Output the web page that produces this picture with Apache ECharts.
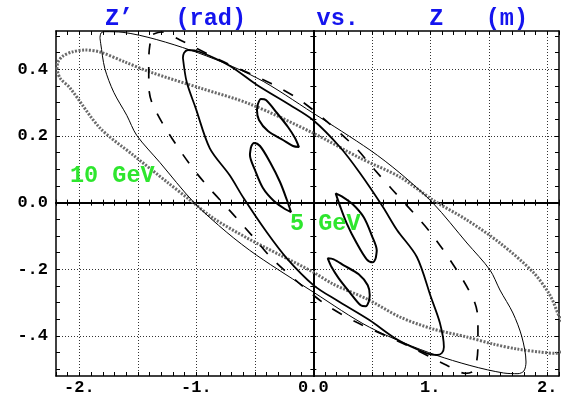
<!DOCTYPE html>
<html><head><meta charset="utf-8">
<script src="https://cdn.jsdelivr.net/npm/echarts@6/dist/echarts.min.js"></script>
<style>html,body{margin:0;padding:0;background:#fff}#c{width:561px;height:397px}</style>
</head><body><div id="c"></div>
<script>
// ---- axis ranges and tick labels ----
const xMin = -2.2, xMax = 2.1, yMin = -0.52, yMax = 0.515;
const xLabelVals = [-2, -1, 0, 1, 2];
const xLabelText = ['-2.', '-1.', '0.0', '1.', '2.'];
const yLabelVals = [-0.4, -0.2, 0, 0.2, 0.4];
const yLabelText = ['-.4', '-.2', '0.0', '0.2', '0.4'];
const xGridVals = [-2, -1.5, -1, -0.5, 0.5, 1, 1.5, 2];
const yGridVals = [-0.4, -0.2, 0.2, 0.4];
const xMinorTicks = []; for (let i = -22; i <= 21; i++) xMinorTicks.push(i / 10);
const yMinorTicks = []; for (let i = -10; i <= 10; i++) yMinorTicks.push(i / 20);

const titleText = 'Z\u2019   (rad)     vs.     Z   (m)';
const label10 = '10 GeV';
const label5 = '5 GeV';

// ---- curves (Z [m], Z' [rad]) ----
const dottedOrbit = [[-2.192,0.401],[-2.183,0.422],[-2.140,0.440],[-2.063,0.452],[-1.952,0.458],[-1.824,0.452],[-1.610,0.422],[-1.396,0.392],[-0.969,0.344],[-0.542,0.296],[-0.003,0.209],[0.398,0.134],[0.740,0.077],[1.022,0.008],[1.313,-0.052],[1.595,-0.121],[1.877,-0.208],[2.022,-0.277],[2.108,-0.346],[2.198,-0.401],[2.190,-0.422],[2.147,-0.440],[2.070,-0.452],[1.937,-0.448],[1.740,-0.439],[1.535,-0.424],[1.313,-0.403],[1.022,-0.379],[0.740,-0.343],[0.458,-0.289],[0.168,-0.244],[-0.003,-0.208],[-0.285,-0.157],[-0.567,-0.106],[-0.858,-0.046],[-1.055,0.008],[-1.251,0.062],[-1.541,0.143],[-1.824,0.224],[-2.080,0.344],[-2.166,0.374],[-2.192,0.401]];

const outerSolid = [[-1.824,0.494],[-1.815,0.509],[-1.781,0.513],[-1.627,0.511],[-1.054,0.458],[-0.482,0.374],[-0.003,0.269],[0.484,0.158],[0.740,0.089],[1.022,-0.001],[1.313,-0.121],[1.510,-0.202],[1.595,-0.262],[1.706,-0.331],[1.783,-0.403],[1.818,-0.478],[1.800,-0.505],[1.749,-0.513],[1.627,-0.511],[1.054,-0.458],[0.482,-0.374],[0.003,-0.269],[-0.484,-0.158],[-0.740,-0.089],[-1.022,0.001],[-1.313,0.121],[-1.510,0.202],[-1.595,0.262],[-1.706,0.331],[-1.783,0.403],[-1.818,0.478],[-1.824,0.494]];

const innerSolid = [[-1.115,0.434],[-1.106,0.449],[-1.072,0.458],[-0.969,0.452],[-0.713,0.410],[-0.482,0.353],[-0.200,0.293],[-0.003,0.248],[0.227,0.167],[0.398,0.089],[0.595,-0.013],[0.715,-0.082],[0.885,-0.163],[1.005,-0.283],[1.082,-0.361],[1.116,-0.433],[1.099,-0.451],[1.057,-0.457],[0.969,-0.452],[0.713,-0.410],[0.482,-0.353],[0.200,-0.293],[0.003,-0.248],[-0.227,-0.167],[-0.398,-0.089],[-0.595,0.013],[-0.715,0.082],[-0.885,0.163],[-1.005,0.283],[-1.082,0.361],[-1.115,0.434]];

const loopUpper1 = [[-0.474,0.296],[-0.448,0.311],[-0.405,0.308],[-0.311,0.269],[-0.217,0.227],[-0.157,0.194],[-0.123,0.167],[-0.174,0.170],[-0.260,0.188],[-0.388,0.215],[-0.465,0.248],[-0.482,0.278],[-0.474,0.296]];
const loopUpper2 = [[-0.533,0.167],[-0.508,0.179],[-0.456,0.170],[-0.371,0.122],[-0.285,0.062],[-0.226,0.008],[-0.191,-0.028],[-0.243,-0.019],[-0.337,0.005],[-0.431,0.044],[-0.499,0.098],[-0.542,0.143],[-0.533,0.167]];
const loopLower1 = [[0.474,-0.296],[0.448,-0.311],[0.405,-0.308],[0.311,-0.269],[0.217,-0.227],[0.157,-0.194],[0.123,-0.167],[0.174,-0.170],[0.260,-0.188],[0.388,-0.215],[0.465,-0.248],[0.482,-0.278],[0.474,-0.296]];
const loopLower2 = [[0.533,-0.167],[0.508,-0.179],[0.456,-0.170],[0.371,-0.122],[0.285,-0.062],[0.226,-0.008],[0.191,0.028],[0.243,0.019],[0.337,-0.005],[0.431,-0.044],[0.499,-0.098],[0.542,-0.143],[0.533,-0.167]];

const dashedOrbit = [[-1.37,0.505],[-1.30,0.512],[-1.14,0.488],[-0.80,0.428],[-0.37,0.359],[-0.115,0.308],[0.10,0.248],[0.356,0.167],[0.526,0.098],[0.655,0.047],[0.997,-0.088],[1.253,-0.217],[1.381,-0.301],[1.407,-0.352],[1.407,-0.427],[1.398,-0.472],[1.37,-0.505],[1.30,-0.512],[1.14,-0.488],[0.80,-0.428],[0.37,-0.359],[0.115,-0.308],[-0.10,-0.248],[-0.356,-0.167],[-0.526,-0.098],[-0.655,-0.047],[-0.997,0.088],[-1.253,0.217],[-1.381,0.301],[-1.407,0.352],[-1.407,0.427],[-1.398,0.472],[-1.37,0.505]];

// ---- build chart ----
const MONO = '"Liberation Mono","Courier New",monospace';
function lab(vals, texts) {
  return function (v) {
    for (let i = 0; i < vals.length; i++) if (Math.abs(v - vals[i]) < 1e-6) return texts[i];
    return '';
  };
}
const axisBlack = {color: '#000', width: 1.5};
function xAx(o) {
  return Object.assign({type: 'value', min: xMin, max: xMax, splitLine: {show: false}}, o);
}
function yAx(o) {
  return Object.assign({type: 'value', min: yMin, max: yMax, splitLine: {show: false}}, o);
}
const noLabel = {show: false};
const tickLine = {color: '#000', width: 1};
const xAxes = [
  xAx({position: 'bottom', axisLine: {show: true, onZero: false, lineStyle: axisBlack},
       axisTick: {show: true, inside: true, length: 4, customValues: xMinorTicks, lineStyle: tickLine},
       axisLabel: {show: true, customValues: xLabelVals, formatter: lab(xLabelVals, xLabelText), margin: 3,
                   fontFamily: MONO, fontWeight: 'bold', fontSize: 17, color: '#000'}}),
  xAx({position: 'top', axisLine: {show: true, onZero: false, lineStyle: axisBlack},
       axisTick: {show: true, inside: true, length: 4, customValues: xMinorTicks, lineStyle: tickLine}, axisLabel: noLabel}),
  xAx({position: 'bottom', axisLine: {show: true, onZero: true, onZeroAxisIndex: 0, lineStyle: {color: '#000', width: 2}},
       axisTick: {show: true, inside: true, length: 3, customValues: xMinorTicks, lineStyle: tickLine}, axisLabel: noLabel}),
  xAx({position: 'top', axisLine: {show: true, onZero: true, onZeroAxisIndex: 0, lineStyle: {color: '#000', width: 2}},
       axisTick: {show: true, inside: true, length: 3, customValues: xMinorTicks, lineStyle: tickLine}, axisLabel: noLabel}),
  xAx({position: 'bottom', axisLine: {show: false, onZero: false}, axisTick: {show: false, customValues: xGridVals},
       axisLabel: noLabel, splitLine: {show: true, lineStyle: {color: '#333', width: 1, type: [1, 2]}}})
];
const yAxes = [
  yAx({position: 'left', axisLine: {show: true, onZero: false, lineStyle: axisBlack},
       axisTick: {show: true, inside: true, length: 4, customValues: yMinorTicks, lineStyle: tickLine},
       axisLabel: {show: true, customValues: yLabelVals, formatter: lab(yLabelVals, yLabelText), margin: 8,
                   fontFamily: MONO, fontWeight: 'bold', fontSize: 17, color: '#000'}}),
  yAx({position: 'right', axisLine: {show: true, onZero: false, lineStyle: axisBlack},
       axisTick: {show: true, inside: true, length: 4, customValues: yMinorTicks, lineStyle: tickLine}, axisLabel: noLabel}),
  yAx({position: 'left', axisLine: {show: true, onZero: true, onZeroAxisIndex: 0, lineStyle: {color: '#000', width: 2}},
       axisTick: {show: true, inside: true, length: 3, customValues: yMinorTicks, lineStyle: tickLine}, axisLabel: noLabel}),
  yAx({position: 'right', axisLine: {show: true, onZero: true, onZeroAxisIndex: 0, lineStyle: {color: '#000', width: 2}},
       axisTick: {show: true, inside: true, length: 3, customValues: yMinorTicks, lineStyle: tickLine}, axisLabel: noLabel}),
  yAx({position: 'left', axisLine: {show: false, onZero: false}, axisTick: {show: false, customValues: yGridVals},
       axisLabel: noLabel, splitLine: {show: true, lineStyle: {color: '#333', width: 1, type: [1, 2]}}})
];
function curve(data, ls, z) {
  return {type: 'line', data: data, xAxisIndex: 0, yAxisIndex: 0, showSymbol: false, symbol: 'none',
          smooth: 0.3, lineStyle: ls, z: z || 3, silent: true};
}
const chart = echarts.init(document.getElementById('c'), null, {renderer: 'canvas'});
chart.setOption({
  animation: false,
  backgroundColor: '#fff',
  grid: {left: 56, top: 31, width: 503, height: 345, containLabel: false, outerBoundsMode: 'none'},
  xAxis: xAxes,
  yAxis: yAxes,
  series: [
    curve(dottedOrbit, {color: '#6a6a6a', width: 3, type: [2, 1.5]}, 2),
    curve(outerSolid, {color: '#000', width: 1}),
    curve(innerSolid, {color: '#000', width: 1.8}),
    curve(loopUpper1, {color: '#000', width: 2}),
    curve(loopUpper2, {color: '#000', width: 2}),
    curve(loopLower1, {color: '#000', width: 2}),
    curve(loopLower2, {color: '#000', width: 2}),
    curve(dashedOrbit, {color: '#000', width: 1.7, type: [11, 13]})
  ],
  graphic: [
    {type: 'text', z: 100, style: {text: titleText, x: 105, y: 19, fill: '#1414ee', fontFamily: MONO, fontWeight: 'bold', fontSize: 23.5, verticalAlign: 'middle', align: 'left'}},
    {type: 'text', z: 100, style: {text: label10, x: 70, y: 176, fill: '#2ee62e', fontFamily: MONO, fontWeight: 'bold', fontSize: 23.5, verticalAlign: 'middle', align: 'left'}},
    {type: 'text', z: 100, style: {text: label5, x: 290, y: 224, fill: '#2ee62e', fontFamily: MONO, fontWeight: 'bold', fontSize: 23.5, verticalAlign: 'middle', align: 'left'}}
  ]
});
</script></body></html>
